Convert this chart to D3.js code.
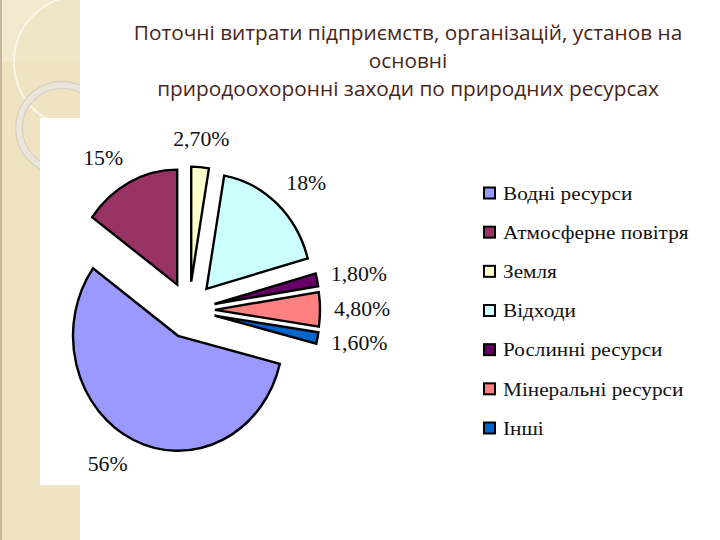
<!DOCTYPE html>
<html><head><meta charset="utf-8">
<script src="https://cdn.jsdelivr.net/npm/d3@7"></script>
<style>html,body{margin:0;padding:0;background:#fff;}svg{display:block;}</style>
</head><body>
<script>
const titleLines = ["Поточні витрати підприємств, організацій, установ на", "основні", "природоохоронні заходи по природних ресурсах"];
const categories = ["Водні ресурси", "Атмосферне повітря", "Земля", "Відходи", "Рослинні ресурси", "Мінеральні ресурси", "Інші"];
const values = [56, 15, 2.7, 18, 1.8, 4.8, 1.6];
const valueLabels = ["56%", "15%", "2,70%", "18%", "1,80%", "4,80%", "1,60%"];
const colors = ["#9999ff", "#993366", "#ffffcc", "#ccffff", "#660066", "#ff8080", "#0066cc"];
// drawing order around the pie, clockwise from 12 o'clock
const pieOrder = [2, 3, 4, 5, 6, 0, 1];

const W = 720, H = 540;
const svg = d3.select("body").append("svg").attr("width", W).attr("height", H);

// slide decoration
const deco = svg.append("g");
deco.append("defs").append("clipPath").attr("id", "strip").append("rect").attr("x", 0).attr("y", 0).attr("width", 80).attr("height", H);
deco.append("rect").attr("x", 0).attr("y", 0).attr("width", 80).attr("height", H).attr("fill", "#efe3c1");
const dg = deco.append("g").attr("clip-path", "url(#strip)");
dg.append("rect").attr("x", 0).attr("y", 0).attr("width", 80).attr("height", 62).attr("fill", "#f2e9cf");
dg.append("circle").attr("cx", 80).attr("cy", 62).attr("r", 66).attr("fill", "#f0e5c6").attr("stroke", "none");
dg.append("rect").attr("x", 0).attr("y", 62).attr("width", 80).attr("height", 80).attr("fill", "#efe3c1");
dg.append("circle").attr("cx", 80).attr("cy", 62).attr("r", 66).attr("fill", "none").attr("stroke", "#faf6ea").attr("stroke-width", 2);
dg.append("circle").attr("cx", 62).attr("cy", 128).attr("r", 43).attr("fill", "none").attr("stroke", "#d8d0bc").attr("stroke-width", 8);
dg.append("circle").attr("cx", 62).attr("cy", 128).attr("r", 43).attr("fill", "none").attr("stroke", "#ebe6dc").attr("stroke-width", 5.5);
deco.append("rect").attr("x", 0).attr("y", 0).attr("width", 2).attr("height", H).attr("fill", "#c9b99a");

// chart area
svg.append("rect").attr("x", 40).attr("y", 118).attr("width", 666).attr("height", 367).attr("fill", "#ffffff");

// title
const title = svg.append("text").attr("text-anchor", "middle").attr("fill", "#4a2519")
  .style("font-family", "'Open Sans', sans-serif").style("font-size", "20.8px");
titleLines.forEach((t, i) => {
  title.append("tspan").attr("x", 408).attr("y", 40 + i * 28).text(t);
});

const serif = "'Liberation Serif', 'Times New Roman', serif";
const stretch = 1.09;

// pie
const cx = 189, cy = 310, R = 105, sy = 1.095, explode = 26, labelRx = 145, labelRy = 156;
const ordered = pieOrder.map(i => ({i, v: values[i]}));
const pie = d3.pie().value(d => d.v).sort(null);
const arcs = pie(ordered);
const arc = d3.arc().innerRadius(0).outerRadius(R);
const g = svg.append("g").attr("transform", `translate(${cx},${cy}) scale(1,${sy})`);
g.selectAll("path").data(arcs).join("path")
  .attr("d", arc)
  .attr("transform", d => {
    const a = (d.startAngle + d.endAngle) / 2;
    return `translate(${explode * Math.sin(a)},${-explode * Math.cos(a)})`;
  })
  .attr("fill", d => colors[d.data.i])
  .attr("stroke", "#000").attr("stroke-width", 2.4)
  .attr("stroke-linejoin", "miter")
  .attr("vector-effect", "non-scaling-stroke");

const mid = d => (d.startAngle + d.endAngle) / 2;
svg.append("g").selectAll("text").data(arcs).join("text")
  .attr("transform", d => {
    const a = mid(d);
    return `translate(${cx + labelRx * Math.sin(a)},${cy - labelRy * sy * Math.cos(a)}) scale(${stretch},1)`;
  })
  .attr("text-anchor", d => { const s = Math.sin(mid(d)); return s > 0.1 ? "start" : (s < -0.1 ? "end" : "middle"); })
  .attr("dominant-baseline", "central")
  .style("font-family", serif).style("font-size", "20px")
  .attr("fill", "#111")
  .text(d => valueLabels[d.data.i]);

// legend
const ly = d3.scalePoint().domain(d3.range(categories.length)).range([193, 428]);
const lg = svg.append("g");
const rows = lg.selectAll("g").data(categories).join("g")
  .attr("transform", (d, i) => `translate(484,${ly(i)})`);
rows.append("rect").attr("x", 0).attr("y", -5.5).attr("width", 11).attr("height", 11)
  .attr("fill", (d, i) => colors[i]).attr("stroke", "#000").attr("stroke-width", 2);
rows.append("text").attr("transform", `translate(19,0) scale(${stretch},1)`).attr("dominant-baseline", "central")
  .style("font-family", serif).style("font-size", "19.5px")
  .attr("fill", "#111").text(d => d);
</script>
</body></html>
